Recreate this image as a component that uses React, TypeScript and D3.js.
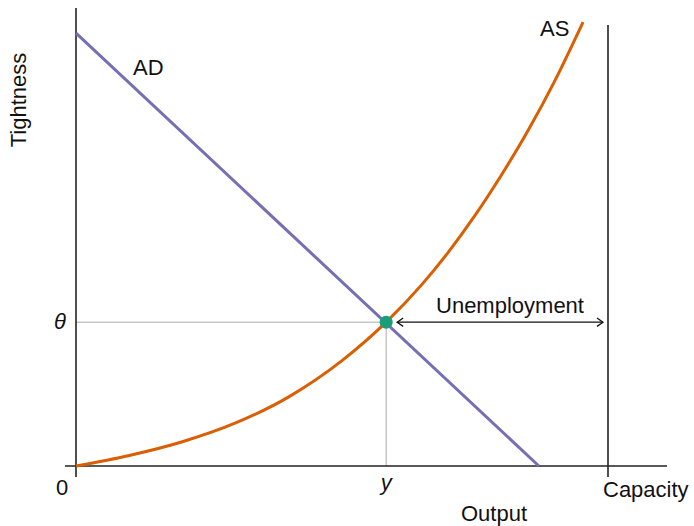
import React from "react";
import * as d3 from "d3";

// Data (units: 0–100 on both axes)
const asX = [0, 10, 20, 30, 40, 50, 58.3, 65, 70, 75, 80, 85, 90, 95.3];
const asY = [0, 2.3, 5.3, 9.4, 15.1, 23.0, 31.4, 39.6, 46.7, 54.7, 63.6, 73.3, 84.1, 96.9];
const adX = [0, 87.0];
const adY = [94.5, 0];
const eqX = [58.3];
const eqY = [31.4];
const capacity = [100];
const xTickLabels = ["0", "y", "Capacity"];

const W = 694;
const H = 526;
const FONT = "'Liberation Sans', Arial, Helvetica, sans-serif";

export default function App() {
  const x = d3.scaleLinear().domain([0, 100]).range([76, 608]);
  const y = d3.scaleLinear().domain([0, 100]).range([466, 8]);

  const asPts: [number, number][] = asX.map((v, i) => [v, asY[i]]);
  const adPts: [number, number][] = adX.map((v, i) => [v, adY[i]]);
  const line = d3
    .line<[number, number]>()
    .x((d) => x(d[0]))
    .y((d) => y(d[1]))
    .curve(d3.curveMonotoneX);
  const straight = d3
    .line<[number, number]>()
    .x((d) => x(d[0]))
    .y((d) => y(d[1]));

  const ex = x(eqX[0]);
  const ey = y(eqY[0]);
  const cx = x(capacity[0]);
  const x0 = x(0);
  const y0 = y(0);

  const arrowL = ex + 11;
  const arrowR = cx - 5;
  const ah = 6;

  return (
    <svg width={W} height={H} style={{ position: "absolute", left: 0, top: 0 }}>
      <rect width={W} height={H} fill="#fff" />
      {/* guides */}
      <line x1={x0} x2={ex} y1={ey} y2={ey} stroke="#aaa" strokeWidth={1} />
      <line x1={ex} x2={ex} y1={ey} y2={y0} stroke="#aaa" strokeWidth={1} />
      {/* axes */}
      <line x1={x0} x2={x0} y1={8} y2={y0 + 11} stroke="#222" strokeWidth={1.6} />
      <line x1={65} x2={667} y1={y0} y2={y0} stroke="#222" strokeWidth={1.6} />
      <line x1={cx} x2={cx} y1={25} y2={y0 + 11} stroke="#222" strokeWidth={1.6} />
      {/* curves */}
      <path d={straight(adPts) || ""} fill="none" stroke="#7570b3" strokeWidth={3} />
      <path d={line(asPts) || ""} fill="none" stroke="#d95f02" strokeWidth={3} />
      {/* equilibrium */}
      <circle cx={ex} cy={ey} r={6.5} fill="#1b9e77" />
      {/* unemployment arrow */}
      <line x1={arrowL} x2={arrowR} y1={ey} y2={ey} stroke="#111" strokeWidth={1.3} />
      <path
        d={`M${arrowL + ah},${ey - ah * 0.7} L${arrowL},${ey} L${arrowL + ah},${ey + ah * 0.7}`}
        fill="none"
        stroke="#111"
        strokeWidth={1.3}
      />
      <path
        d={`M${arrowR - ah},${ey - ah * 0.7} L${arrowR},${ey} L${arrowR - ah},${ey + ah * 0.7}`}
        fill="none"
        stroke="#111"
        strokeWidth={1.3}
      />
      <g fontFamily={FONT} fontSize={22} fill="#111">
        <text x={510} y={ey - 9} textAnchor="middle">Unemployment</text>
        <text x={133} y={75}>AD</text>
        <text x={540} y={36}>AS</text>
        <text x={x0 - 14} y={495} textAnchor="middle">{xTickLabels[0]}</text>
        <text x={ex} y={490} textAnchor="middle" fontStyle="italic">{xTickLabels[1]}</text>
        <text x={cx - 5} y={497}>{xTickLabels[2]}</text>
        <text x={494} y={521} textAnchor="middle">Output</text>
        <text x={60} y={ey + 7} textAnchor="middle" fontStyle="italic">θ</text>
        <text transform={`translate(26,100) rotate(-90)`} textAnchor="middle">Tightness</text>
      </g>
    </svg>
  );
}
